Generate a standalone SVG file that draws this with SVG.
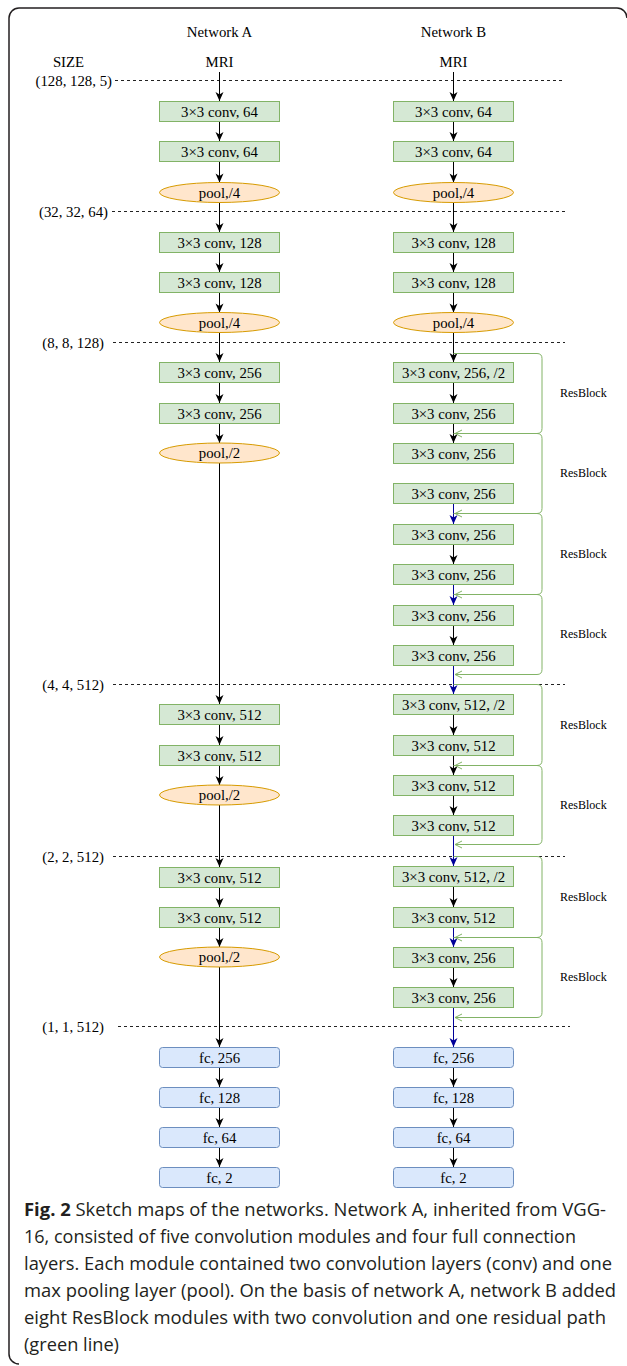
<svg xmlns="http://www.w3.org/2000/svg" width="627" height="1366" viewBox="0 0 627 1366">
<style>
.conv{fill:#d5e8d4;stroke:#82b366;stroke-width:1}
.pool{fill:#ffe6cc;stroke:#d79b00;stroke-width:1}
.fc{fill:#dae8fc;stroke:#6c8ebf;stroke-width:1}
.t{font-family:"Liberation Serif","Times New Roman",serif;font-size:14.8px;text-anchor:middle;fill:#000}
.lbl{font-family:"Liberation Serif","Times New Roman",serif;font-size:14.8px;text-anchor:end;fill:#000}
.rb{font-family:"Liberation Serif","Times New Roman",serif;font-size:12px;fill:#000}
.cap{font-family:"Open Sans","Noto Sans",sans-serif;font-size:18px;fill:#231f20}
.dash{stroke:#222;stroke-width:1;stroke-dasharray:3 3;fill:none}
.arr{stroke:#000;stroke-width:1;fill:none;marker-end:url(#ah)}
.blue{stroke:#000099;stroke-width:1;fill:none;marker-end:url(#ahb)}
.res{stroke:#82b366;stroke-width:1;fill:none;marker-end:url(#ahg)}
</style>
<defs>
<marker id="ah" markerUnits="userSpaceOnUse" markerWidth="10" markerHeight="9" refX="9" refY="4" orient="auto" overflow="visible"><path d="M0,0 L9,4 L0,8 L2.5,4 Z" fill="#000"/></marker>
<marker id="ahb" markerUnits="userSpaceOnUse" markerWidth="10" markerHeight="9" refX="9" refY="4" orient="auto" overflow="visible"><path d="M0,0 L9,4 L0,8 L2.5,4 Z" fill="#000099"/></marker>
<marker id="ahg" markerUnits="userSpaceOnUse" markerWidth="8" markerHeight="8" refX="7" refY="3.5" orient="auto" overflow="visible"><path d="M0,0 L7,3.5 L0,7" fill="none" stroke="#82b366" stroke-width="1"/></marker>
</defs>
<rect width="627" height="1366" fill="#fff"/>
<path d="M19 1364 A10 10 0 0 1 9 1354 V18 A10 10 0 0 1 19 8 H617 A10 10 0 0 1 627 18" fill="none" stroke="#231f20" stroke-width="1.5"/>

<g id="headers">
<text class="t" x="219.5" y="37">Network A</text>
<text class="t" x="453.5" y="37">Network B</text>
<text class="t" x="68.5" y="67">SIZE</text>
<text class="t" x="219.5" y="67">MRI</text>
<text class="t" x="453.5" y="67">MRI</text>
</g>

<g id="sizes">
<line class="dash" x1="115" y1="80.5" x2="565" y2="80.5"/>
<text class="lbl" x="112" y="85.5">(128, 128, 5)</text>
<line class="dash" x1="112" y1="211.5" x2="565" y2="211.5"/>
<text class="lbl" x="108" y="216.5">(32, 32, 64)</text>
<line class="dash" x1="113" y1="342.5" x2="565" y2="342.5"/>
<text class="lbl" x="104" y="347.5">(8, 8, 128)</text>
<line class="dash" x1="113" y1="684.5" x2="565" y2="684.5"/>
<text class="lbl" x="104" y="689.5">(4, 4, 512)</text>
<line class="dash" x1="113" y1="856.5" x2="565" y2="856.5"/>
<text class="lbl" x="104" y="861.5">(2, 2, 512)</text>
<line class="dash" x1="118" y1="1026.5" x2="570" y2="1026.5"/>
<text class="lbl" x="104" y="1031.5">(1, 1, 512)</text>
</g>

<g id="connectors">
<line class="arr" x1="219.5" y1="72" x2="219.5" y2="101"/>
<line class="arr" x1="219.5" y1="122" x2="219.5" y2="141"/>
<line class="arr" x1="219.5" y1="162" x2="219.5" y2="182.5"/>
<line class="arr" x1="219.5" y1="202.5" x2="219.5" y2="232"/>
<line class="arr" x1="219.5" y1="253" x2="219.5" y2="272"/>
<line class="arr" x1="219.5" y1="293" x2="219.5" y2="312.5"/>
<line class="arr" x1="219.5" y1="332.5" x2="219.5" y2="362"/>
<line class="arr" x1="219.5" y1="383" x2="219.5" y2="403"/>
<line class="arr" x1="219.5" y1="424" x2="219.5" y2="443"/>
<line class="arr" x1="219.5" y1="463" x2="219.5" y2="704"/>
<line class="arr" x1="219.5" y1="725" x2="219.5" y2="745"/>
<line class="arr" x1="219.5" y1="766" x2="219.5" y2="785"/>
<line class="arr" x1="219.5" y1="805" x2="219.5" y2="867"/>
<line class="arr" x1="219.5" y1="888" x2="219.5" y2="907"/>
<line class="arr" x1="219.5" y1="928" x2="219.5" y2="947"/>
<line class="arr" x1="219.5" y1="967" x2="219.5" y2="1047"/>
<line class="arr" x1="219.5" y1="1067" x2="219.5" y2="1087"/>
<line class="arr" x1="219.5" y1="1107" x2="219.5" y2="1127"/>
<line class="arr" x1="219.5" y1="1147" x2="219.5" y2="1167"/>

<line class="arr" x1="453.5" y1="72" x2="453.5" y2="101"/>
<line class="arr" x1="453.5" y1="122" x2="453.5" y2="141"/>
<line class="arr" x1="453.5" y1="162" x2="453.5" y2="182.5"/>
<line class="arr" x1="453.5" y1="202.5" x2="453.5" y2="232"/>
<line class="arr" x1="453.5" y1="253" x2="453.5" y2="272"/>
<line class="arr" x1="453.5" y1="293" x2="453.5" y2="312.5"/>
<line class="arr" x1="453.5" y1="332.5" x2="453.5" y2="362"/>
<line class="arr" x1="453.5" y1="383" x2="453.5" y2="403"/>
<line class="arr" x1="453.5" y1="424" x2="453.5" y2="443"/>
<line class="blue" x1="453.5" y1="504" x2="453.5" y2="524"/>
<line class="arr" x1="453.5" y1="545" x2="453.5" y2="564"/>
<line class="blue" x1="453.5" y1="585" x2="453.5" y2="605"/>
<line class="arr" x1="453.5" y1="626" x2="453.5" y2="645"/>
<line class="blue" x1="453.5" y1="666" x2="453.5" y2="694"/>
<line class="arr" x1="453.5" y1="715" x2="453.5" y2="735"/>
<line class="arr" x1="453.5" y1="756" x2="453.5" y2="775"/>
<line class="arr" x1="453.5" y1="796" x2="453.5" y2="815"/>
<line class="blue" x1="453.5" y1="836" x2="453.5" y2="866"/>
<line class="arr" x1="453.5" y1="887" x2="453.5" y2="907"/>
<line class="blue" x1="453.5" y1="928" x2="453.5" y2="947"/>
<line class="arr" x1="453.5" y1="968" x2="453.5" y2="987"/>
<line class="blue" x1="453.5" y1="1008" x2="453.5" y2="1047"/>
<line class="arr" x1="453.5" y1="1067" x2="453.5" y2="1087"/>
<line class="arr" x1="453.5" y1="1107" x2="453.5" y2="1127"/>
<line class="arr" x1="453.5" y1="1147" x2="453.5" y2="1167"/>

<path class="res" d="M453.5 353.5 H537 Q542 353.5 542 358.5 V428.5 Q542 433.5 537 433.5 H455"/>
<path class="res" d="M453.5 433.5 H537 Q542 433.5 542 438.5 V508.5 Q542 513.5 537 513.5 H455"/>
<path class="res" d="M453.5 513.5 H537 Q542 513.5 542 518.5 V589.5 Q542 594.5 537 594.5 H455"/>
<path class="res" d="M453.5 594.5 H537 Q542 594.5 542 599.5 V669.5 Q542 674.5 537 674.5 H455"/>
<path class="res" d="M453.5 684.5 H537 Q542 684.5 542 689.5 V760.5 Q542 765.5 537 765.5 H455"/>
<path class="res" d="M453.5 765.5 H537 Q542 765.5 542 770.5 V839.5 Q542 844.5 537 844.5 H455"/>
<path class="res" d="M453.5 856.5 H537 Q542 856.5 542 861.5 V932.5 Q542 937.5 537 937.5 H455"/>
<path class="res" d="M453.5 937.5 H537 Q542 937.5 542 942.5 V1012.5 Q542 1017.5 537 1017.5 H455"/>
</g>

<g id="resblock-labels">
<text class="rb" x="560" y="397">ResBlock</text>
<text class="rb" x="560" y="477">ResBlock</text>
<text class="rb" x="560" y="558">ResBlock</text>
<text class="rb" x="560" y="638">ResBlock</text>
<text class="rb" x="560" y="729">ResBlock</text>
<text class="rb" x="560" y="809">ResBlock</text>
<text class="rb" x="560" y="901">ResBlock</text>
<text class="rb" x="560" y="981">ResBlock</text>
</g>

<g id="netA">
<g id="a1"><rect class="conv" x="159.5" y="101.5" width="120" height="20"/><text class="t" x="219.5" y="117">3×3 conv, 64</text></g>
<g id="a2"><rect class="conv" x="159.5" y="141.5" width="120" height="20"/><text class="t" x="219.5" y="157">3×3 conv, 64</text></g>
<g id="a3"><ellipse class="pool" cx="219.5" cy="192.5" rx="60" ry="10"/><text class="t" x="219.5" y="197.5">pool,/4</text></g>
<g id="a4"><rect class="conv" x="159.5" y="232.5" width="120" height="20"/><text class="t" x="219.5" y="248">3×3 conv, 128</text></g>
<g id="a5"><rect class="conv" x="159.5" y="272.5" width="120" height="20"/><text class="t" x="219.5" y="288">3×3 conv, 128</text></g>
<g id="a6"><ellipse class="pool" cx="219.5" cy="322.5" rx="60" ry="10"/><text class="t" x="219.5" y="327.5">pool,/4</text></g>
<g id="a7"><rect class="conv" x="159.5" y="362.5" width="120" height="20"/><text class="t" x="219.5" y="378">3×3 conv, 256</text></g>
<g id="a8"><rect class="conv" x="159.5" y="403.5" width="120" height="20"/><text class="t" x="219.5" y="419">3×3 conv, 256</text></g>
<g id="a9"><ellipse class="pool" cx="219.5" cy="453" rx="60" ry="10"/><text class="t" x="219.5" y="458">pool,/2</text></g>
<g id="a10"><rect class="conv" x="159.5" y="704.5" width="120" height="20"/><text class="t" x="219.5" y="720">3×3 conv, 512</text></g>
<g id="a11"><rect class="conv" x="159.5" y="745.5" width="120" height="20"/><text class="t" x="219.5" y="761">3×3 conv, 512</text></g>
<g id="a12"><ellipse class="pool" cx="219.5" cy="795" rx="60" ry="10"/><text class="t" x="219.5" y="800">pool,/2</text></g>
<g id="a13"><rect class="conv" x="159.5" y="867.5" width="120" height="20"/><text class="t" x="219.5" y="883">3×3 conv, 512</text></g>
<g id="a14"><rect class="conv" x="159.5" y="907.5" width="120" height="20"/><text class="t" x="219.5" y="923">3×3 conv, 512</text></g>
<g id="a15"><ellipse class="pool" cx="219.5" cy="957" rx="60" ry="10"/><text class="t" x="219.5" y="962">pool,/2</text></g>
<g id="a16"><rect class="fc" x="159.5" y="1047.5" width="120" height="20" rx="3"/><text class="t" x="219.5" y="1063">fc, 256</text></g>
<g id="a17"><rect class="fc" x="159.5" y="1087.5" width="120" height="20" rx="3"/><text class="t" x="219.5" y="1103">fc, 128</text></g>
<g id="a18"><rect class="fc" x="159.5" y="1127.5" width="120" height="20" rx="3"/><text class="t" x="219.5" y="1143">fc, 64</text></g>
<g id="a19"><rect class="fc" x="159.5" y="1167.5" width="120" height="20" rx="3"/><text class="t" x="219.5" y="1183">fc, 2</text></g>
</g>

<g id="netB">
<g id="b1"><rect class="conv" x="393.5" y="101.5" width="120" height="20"/><text class="t" x="453.5" y="117">3×3 conv, 64</text></g>
<g id="b2"><rect class="conv" x="393.5" y="141.5" width="120" height="20"/><text class="t" x="453.5" y="157">3×3 conv, 64</text></g>
<g id="b3"><ellipse class="pool" cx="453.5" cy="192.5" rx="60" ry="10"/><text class="t" x="453.5" y="197.5">pool,/4</text></g>
<g id="b4"><rect class="conv" x="393.5" y="232.5" width="120" height="20"/><text class="t" x="453.5" y="248">3×3 conv, 128</text></g>
<g id="b5"><rect class="conv" x="393.5" y="272.5" width="120" height="20"/><text class="t" x="453.5" y="288">3×3 conv, 128</text></g>
<g id="b6"><ellipse class="pool" cx="453.5" cy="322.5" rx="60" ry="10"/><text class="t" x="453.5" y="327.5">pool,/4</text></g>
<g id="b7"><rect class="conv" x="393.5" y="362.5" width="120" height="20"/><text class="t" x="453.5" y="378">3×3 conv, 256, /2</text></g>
<g id="b8"><rect class="conv" x="393.5" y="403.5" width="120" height="20"/><text class="t" x="453.5" y="419">3×3 conv, 256</text></g>
<g id="b9"><rect class="conv" x="393.5" y="443.5" width="120" height="20"/><text class="t" x="453.5" y="459">3×3 conv, 256</text></g>
<g id="b10"><rect class="conv" x="393.5" y="483.5" width="120" height="20"/><text class="t" x="453.5" y="499">3×3 conv, 256</text></g>
<g id="b11"><rect class="conv" x="393.5" y="524.5" width="120" height="20"/><text class="t" x="453.5" y="540">3×3 conv, 256</text></g>
<g id="b12"><rect class="conv" x="393.5" y="564.5" width="120" height="20"/><text class="t" x="453.5" y="580">3×3 conv, 256</text></g>
<g id="b13"><rect class="conv" x="393.5" y="605.5" width="120" height="20"/><text class="t" x="453.5" y="621">3×3 conv, 256</text></g>
<g id="b14"><rect class="conv" x="393.5" y="645.5" width="120" height="20"/><text class="t" x="453.5" y="661">3×3 conv, 256</text></g>
<g id="b15"><rect class="conv" x="393.5" y="694.5" width="120" height="20"/><text class="t" x="453.5" y="710">3×3 conv, 512, /2</text></g>
<g id="b16"><rect class="conv" x="393.5" y="735.5" width="120" height="20"/><text class="t" x="453.5" y="751">3×3 conv, 512</text></g>
<g id="b17"><rect class="conv" x="393.5" y="775.5" width="120" height="20"/><text class="t" x="453.5" y="791">3×3 conv, 512</text></g>
<g id="b18"><rect class="conv" x="393.5" y="815.5" width="120" height="20"/><text class="t" x="453.5" y="831">3×3 conv, 512</text></g>
<g id="b19"><rect class="conv" x="393.5" y="866.5" width="120" height="20"/><text class="t" x="453.5" y="882">3×3 conv, 512, /2</text></g>
<g id="b20"><rect class="conv" x="393.5" y="907.5" width="120" height="20"/><text class="t" x="453.5" y="923">3×3 conv, 512</text></g>
<g id="b21"><rect class="conv" x="393.5" y="947.5" width="120" height="20"/><text class="t" x="453.5" y="963">3×3 conv, 256</text></g>
<g id="b22"><rect class="conv" x="393.5" y="987.5" width="120" height="20"/><text class="t" x="453.5" y="1003">3×3 conv, 256</text></g>
<g id="b23"><rect class="fc" x="393.5" y="1047.5" width="120" height="20" rx="3"/><text class="t" x="453.5" y="1063">fc, 256</text></g>
<g id="b24"><rect class="fc" x="393.5" y="1087.5" width="120" height="20" rx="3"/><text class="t" x="453.5" y="1103">fc, 128</text></g>
<g id="b25"><rect class="fc" x="393.5" y="1127.5" width="120" height="20" rx="3"/><text class="t" x="453.5" y="1143">fc, 64</text></g>
<g id="b26"><rect class="fc" x="393.5" y="1167.5" width="120" height="20" rx="3"/><text class="t" x="453.5" y="1183">fc, 2</text></g>
</g>

<g id="caption">
<text class="cap" x="24" y="1216" textLength="582" lengthAdjust="spacingAndGlyphs"><tspan font-weight="bold">Fig. 2</tspan> Sketch maps of the networks. Network A, inherited from VGG-</text>
<text class="cap" x="24" y="1243" textLength="552" lengthAdjust="spacingAndGlyphs">16, consisted of five convolution modules and four full connection</text>
<text class="cap" x="24" y="1270" textLength="588" lengthAdjust="spacingAndGlyphs">layers. Each module contained two convolution layers (conv) and one</text>
<text class="cap" x="24" y="1297" textLength="592" lengthAdjust="spacingAndGlyphs">max pooling layer (pool). On the basis of network A, network B added</text>
<text class="cap" x="24" y="1324" textLength="582" lengthAdjust="spacingAndGlyphs">eight ResBlock modules with two convolution and one residual path</text>
<text class="cap" x="24" y="1351" textLength="95" lengthAdjust="spacingAndGlyphs">(green line)</text>
</g>
</svg>
